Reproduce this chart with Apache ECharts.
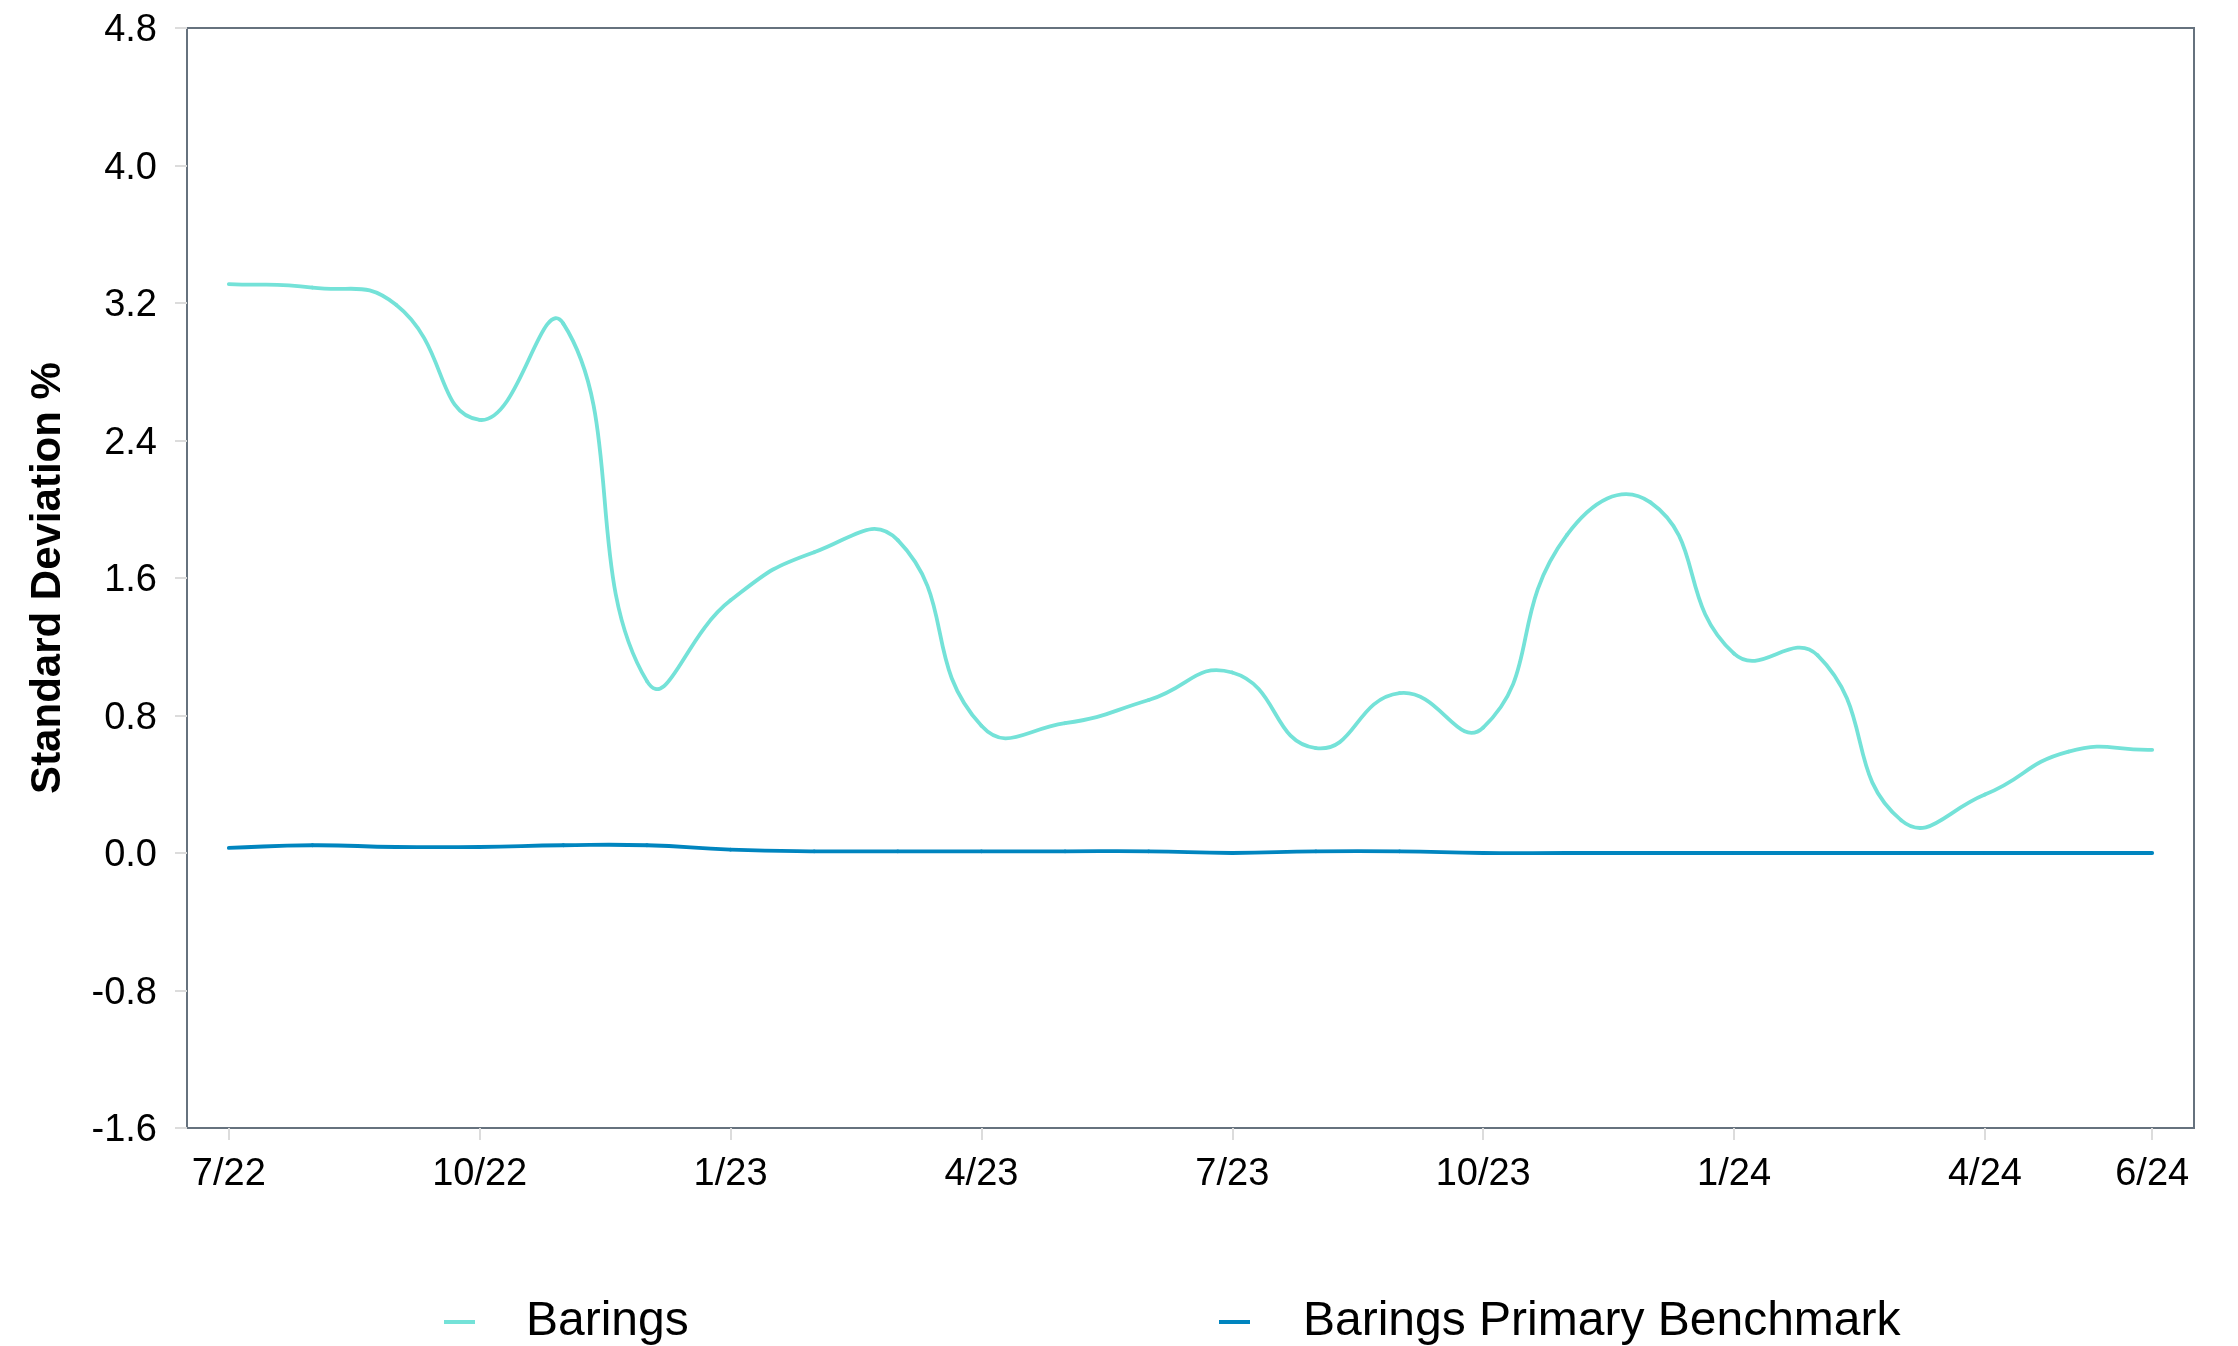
<!DOCTYPE html>
<html>
<head>
<meta charset="utf-8">
<script src="https://cdn.jsdelivr.net/npm/echarts@6/dist/echarts.min.js"></script>
<style>
  html, body { margin: 0; padding: 0; background: #ffffff; }
  #chart { width: 2238px; height: 1346px; }
</style>
</head>
<body>
<div id="chart"></div>
<script>
const categories = ['7/22','8/22','9/22','10/22','11/22','12/22','1/23','2/23','3/23','4/23','5/23','6/23',
                    '7/23','8/23','9/23','10/23','11/23','12/23','1/24','2/24','3/24','4/24','5/24','6/24'];
const labelIndices = [0, 3, 6, 9, 12, 15, 18, 21, 23];
const baringsValues = [3.31, 3.29, 3.19, 2.52, 3.08, 1.00, 1.47, 1.75, 1.82, 0.74, 0.755, 0.89,
                       1.05, 0.61, 0.93, 0.73, 1.85, 2.04, 1.16, 1.15, 0.19, 0.34, 0.59, 0.60];
const benchmarkValues = [0.03, 0.045, 0.035, 0.035, 0.045, 0.045, 0.02, 0.01, 0.01, 0.01, 0.01, 0.01,
                         0.0, 0.01, 0.01, 0.0, 0.0, 0.0, 0.0, 0.0, 0.0, 0.0, 0.0, 0.0];
const yTicks = { min: -1.6, max: 4.8, interval: 0.8 };

const FONT = '"Liberation Sans", Arial, Helvetica, sans-serif';
const BARINGS_COLOR = '#74e2d8';
const BENCH_COLOR = '#0085bf';
const SMOOTH = 0.5;
const showAt = (i) => labelIndices.indexOf(i) >= 0;

// Cardinal-style smooth segment between point i and i+1, positions via the axis scales (api.coord)
function makeSplineRenderer(values, color, width) {
  return function (params, api) {
    const i = params.dataIndex;
    const n = values.length;
    if (i >= n - 1) return null;
    const P = (k) => api.coord([Math.max(0, Math.min(n - 1, k)), values[Math.max(0, Math.min(n - 1, k))]]);
    function ctrl(k) {
      const cur = P(k), prev = P(k - 1), next = P(k + 1);
      const vx = next[0] - prev[0], vy = next[1] - prev[1];
      const d0 = Math.hypot(cur[0] - prev[0], cur[1] - prev[1]);
      const d1 = Math.hypot(next[0] - cur[0], next[1] - cur[1]);
      const r = (d0 + d1) > 0 ? d1 / (d0 + d1) : 0.5;
      return {
        left: [cur[0] - vx * SMOOTH * (1 - r), cur[1] - vy * SMOOTH * (1 - r)],
        right: [cur[0] + vx * SMOOTH * r, cur[1] + vy * SMOOTH * r]
      };
    }
    const a = P(i), b = P(i + 1);
    const ca = ctrl(i), cb = ctrl(i + 1);
    return {
      type: 'bezierCurve',
      shape: { x1: a[0], y1: a[1], x2: b[0], y2: b[1],
               cpx1: ca.right[0], cpy1: ca.right[1], cpx2: cb.left[0], cpy2: cb.left[1] },
      style: { stroke: color, lineWidth: width, fill: null, lineCap: 'round' },
      silent: true
    };
  };
}

const chart = echarts.init(document.getElementById('chart'), null, { renderer: 'canvas' });
chart.setOption({
  animation: false,
  backgroundColor: '#ffffff',
  grid: {
    left: 187, right: 44, top: 28, bottom: 218,
    show: true, borderColor: '#66727e', borderWidth: 2, backgroundColor: 'transparent'
  },
  legend: [
    {
      data: [{ name: 'Barings', itemStyle: { color: BARINGS_COLOR } }],
      left: 439, top: 1293, icon: 'rect', itemWidth: 31, itemHeight: 4,
      textStyle: { fontFamily: FONT, fontSize: 48, color: '#000', padding: [0, 0, 0, 46] }
    },
    {
      data: [{ name: 'Barings Primary Benchmark', itemStyle: { color: BENCH_COLOR } }],
      left: 1214, top: 1293, icon: 'rect', itemWidth: 31, itemHeight: 4,
      textStyle: { fontFamily: FONT, fontSize: 48, color: '#000', padding: [0, 0, 0, 48] }
    }
  ],
  xAxis: {
    type: 'category',
    data: categories,
    boundaryGap: true,
    axisLine: { show: true, onZero: false, lineStyle: { color: '#66727e', width: 2 } },
    axisTick: { show: true, alignWithLabel: true, interval: (i) => showAt(i), length: 12,
                lineStyle: { color: '#dcdcdc', width: 2 } },
    axisLabel: { show: true, interval: (i) => showAt(i), fontFamily: FONT, fontSize: 38, color: '#000', margin: 28 },
    splitLine: { show: false }
  },
  yAxis: {
    type: 'value',
    min: yTicks.min, max: yTicks.max, interval: yTicks.interval,
    name: 'Standard Deviation %',
    nameLocation: 'middle',
    nameGap: 118,
    nameTextStyle: { fontFamily: FONT, fontSize: 42, fontWeight: 'bold', color: '#000' },
    axisLine: { show: true, lineStyle: { color: '#66727e', width: 2 } },
    axisTick: { show: true, length: 12, lineStyle: { color: '#dcdcdc', width: 2 } },
    axisLabel: {
      fontFamily: FONT, fontSize: 38, color: '#000', margin: 30,
      formatter: (v) => '{v|' + v.toFixed(1) + '}',
      rich: { v: { fontFamily: FONT, fontSize: 38, color: '#000', padding: [6, 0, 0, 0] } }
    },
    splitLine: { show: false }
  },
  series: [
    {
      name: 'Barings Primary Benchmark', type: 'custom',
      data: benchmarkValues.map((v, i) => [i, v]),
      encode: { x: 0, y: 1 },
      itemStyle: { color: BENCH_COLOR },
      renderItem: makeSplineRenderer(benchmarkValues, BENCH_COLOR, 3.8),
      z: 2
    },
    {
      name: 'Barings', type: 'custom',
      data: baringsValues.map((v, i) => [i, v]),
      encode: { x: 0, y: 1 },
      itemStyle: { color: BARINGS_COLOR },
      renderItem: makeSplineRenderer(baringsValues, BARINGS_COLOR, 3.8),
      z: 3
    }
  ]
});
</script>
</body>
</html>
